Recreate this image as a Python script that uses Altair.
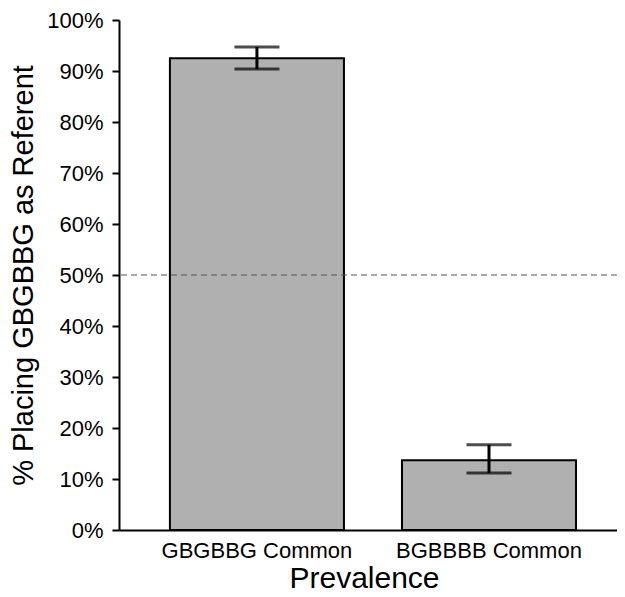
import altair as alt
import pandas as pd

categories = ["GBGBBG Common", "BGBBBB Common"]
means = [0.925, 0.137]
lows = [0.904, 0.112]
highs = [0.947, 0.167]
reference = [0.5]

df = pd.DataFrame({"cat": categories, "mean": means, "lo": lows, "hi": highs})
ref = pd.DataFrame({"v": reference})

font = "Liberation Sans"

x = alt.X("cat:N", sort=categories, title="Prevalence",
          scale=alt.Scale(paddingInner=0.25, paddingOuter=0.198, align=0.554),
          axis=alt.Axis(labelAngle=0, labelFontSize=22, labelColor="black", labelFont=font, labelLimit=400,
                        titleFontSize=30, titleFont=font, titleColor="black", titleFontWeight="normal",
                        titleX=245, titleAlign="center",
                        ticks=False, domainColor="black", domainWidth=2, labelPadding=10, titlePadding=2))
y = alt.Y("mean:Q", title="% Placing GBGBBG as Referent",
          scale=alt.Scale(domain=[0, 1], nice=False),
          axis=alt.Axis(format=".0%", values=[i / 10 for i in range(11)], grid=False,
                        labelFontSize=22, labelColor="black", labelFont=font,
                        titleFontSize=29, titleFont=font, titleColor="black", titleFontWeight="normal",
                        tickColor="black", tickWidth=2, tickSize=7, domainColor="black", domainWidth=2,
                        labelPadding=9, titlePadding=8))

bars = alt.Chart(df).mark_bar(fill="#b0b0b0", stroke="black", strokeWidth=2).encode(x=x, y=y)

err = alt.Chart(df).mark_rule(color="black", strokeWidth=3).encode(
    x=alt.X("cat:N", sort=categories), y="lo:Q", y2="hi:Q")
caps_lo = alt.Chart(df).mark_tick(color="black", thickness=3, size=45, orient="horizontal").encode(
    x=alt.X("cat:N", sort=categories), y="lo:Q")
caps_hi = alt.Chart(df).mark_tick(color="black", thickness=3, size=45, orient="horizontal").encode(
    x=alt.X("cat:N", sort=categories), y="hi:Q")

rule = alt.Chart(ref).mark_rule(color="#555555", strokeWidth=1, strokeDash=[6, 4]).encode(y="v:Q")

chart = alt.layer(bars, err, caps_lo, caps_hi, rule).properties(
    width=498, height=510,
    autosize=alt.AutoSizeParams(type="none"),
    padding={"left": 111, "top": 12, "right": 0, "bottom": 66},
).configure_view(stroke=None)

chart.save("out.html", embed_options={"renderer": "svg", "actions": False})
